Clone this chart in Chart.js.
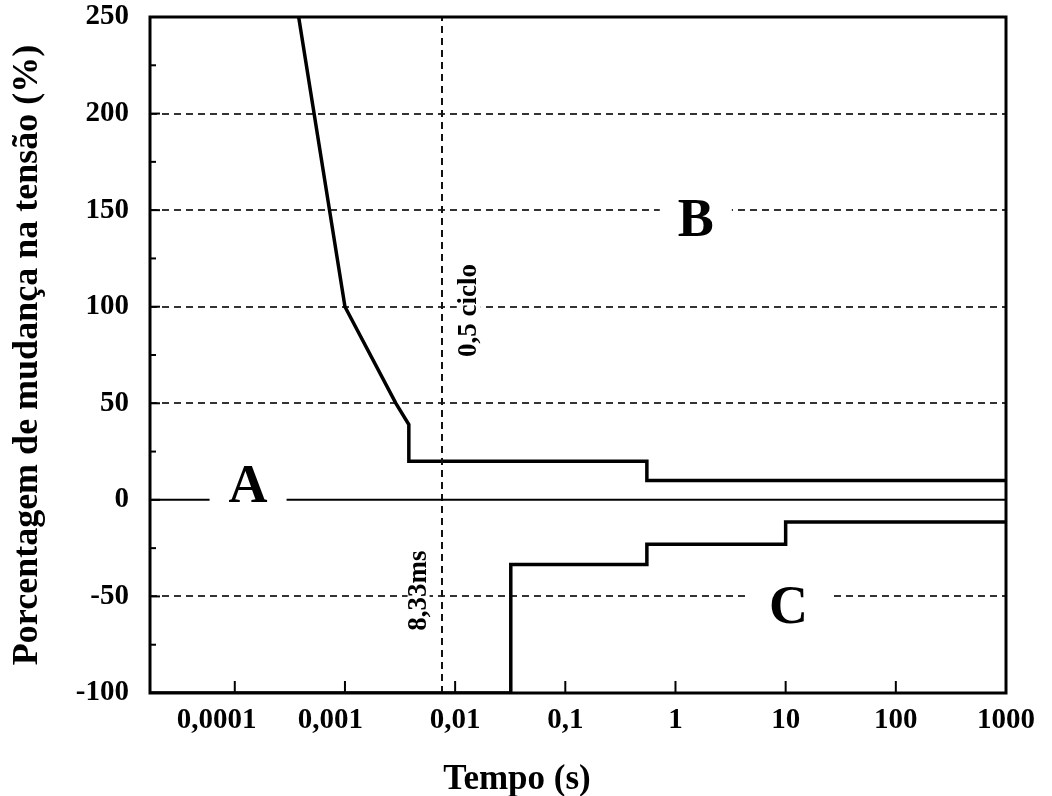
<!DOCTYPE html>
<html>
<head>
<meta charset="utf-8">
<script src="https://cdn.jsdelivr.net/npm/chart.js@4.4.1/dist/chart.umd.min.js"></script>
<style>
  html, body { margin: 0; padding: 0; background: #fff; }
  #wrap { width: 1052px; height: 796px; }
</style>
</head>
<body>
<div id="wrap"><canvas id="cbema" width="1052" height="796"></canvas></div>
<script>
// axis ticks
const xTickValues = [0.0001, 0.001, 0.01, 0.1, 1, 10, 100, 1000];
const xTickLabels = ['0,0001', '0,001', '0,01', '0,1', '1', '10', '100', '1000'];
const yTickValues = [250, 200, 150, 100, 50, 0, -50, -100];
const yGridValues = [200, 150, 100, 50, -50];

// upper (overvoltage) curve
const upperTime = [0.00038, 0.001, 0.0029, 0.0038, 0.0038, 0.55, 0.55, 1000];
const upperPct  = [250, 100, 50, 39, 20, 20, 10, 10];

// lower (undervoltage) curve
const lowerTime = [0.000017, 0.032, 0.032, 0.55, 0.55, 10, 10, 1000];
const lowerPct  = [-100, -100, -33.5, -33.5, -23, -23, -11.5, -11.5];

const timeMin = 0.000017;
const timeMax = 1000;
const halfCycle = 0.0076; // 8,33 ms marker (as drawn)

const serif = "'Liberation Serif', 'Times New Roman', serif";

const toPoints = (xs, ys) => xs.map((v, i) => ({ x: v, y: ys[i] }));

function line(ctx, x1, y1, x2, y2) {
    ctx.beginPath();
    ctx.moveTo(x1, y1);
    ctx.lineTo(x2, y2);
    ctx.stroke();
}

function boxedText(ctx, text, px, py, padX, padY) {
    const w = ctx.measureText(text).width;
    ctx.fillStyle = '#fff';
    ctx.fillRect(px - w / 2 - padX, py - padY, w + padX * 2, padY * 2);
    ctx.fillStyle = '#000';
    ctx.fillText(text, px, py);
}

const decor = {
    id: 'decor',
    afterDatasetsDraw(chart) {
        const { ctx, chartArea: a, scales: { x, y } } = chart;
        ctx.save();
        ctx.strokeStyle = '#000';

        // minor ticks on the y axis, pointing inward
        ctx.lineWidth = 2;
        for (let v = -75; v < 250; v += 25) {
            const py = y.getPixelForValue(v);
            line(ctx, a.left, py, a.left + (v % 50 === 0 ? 10 : 6), py);
        }
        // decade ticks on the x axis, pointing inward
        xTickValues.forEach(v => {
            if (v >= timeMax) return;
            const px = x.getPixelForValue(v);
            line(ctx, px, a.bottom, px, a.bottom - 12);
        });

        // frame
        ctx.lineWidth = 3;
        ctx.strokeRect(a.left, a.top, a.right - a.left, a.bottom - a.top);

        ctx.textAlign = 'center';
        ctx.textBaseline = 'middle';

        // region letters
        ctx.font = 'bold 54px ' + serif;
        boxedText(ctx, 'A', x.getPixelForValue(0.000132), y.getPixelForValue(6), 19, 22);
        boxedText(ctx, 'B', x.getPixelForValue(1.53), y.getPixelForValue(144), 18, 22);
        boxedText(ctx, 'C', x.getPixelForValue(10.6), y.getPixelForValue(-56.5), 22, 22);

        // rotated annotations
        ctx.font = 'bold 27px ' + serif;
        ctx.save();
        ctx.translate(x.getPixelForValue(0.0133), y.getPixelForValue(98));
        ctx.rotate(-Math.PI / 2);
        boxedText(ctx, '0,5 ciclo', 0, 0, 4, 12);
        ctx.restore();

        ctx.save();
        ctx.translate(x.getPixelForValue(0.00466), y.getPixelForValue(-47));
        ctx.rotate(-Math.PI / 2);
        boxedText(ctx, '8,33ms', 0, 0, 4, 11);
        ctx.restore();

        // x axis title
        ctx.font = 'bold 35px ' + serif;
        ctx.fillStyle = '#000';
        ctx.textBaseline = 'alphabetic';
        ctx.fillText('Tempo (s)', 517, 789);

        ctx.restore();
    }
};

new Chart(document.getElementById('cbema'), {
    type: 'line',
    data: {
        datasets: [
            {
                data: toPoints([timeMin, timeMax], [0, 0]),
                borderColor: '#000',
                borderWidth: 2
            },
            {
                data: toPoints([halfCycle, halfCycle], [-100, 250]),
                borderColor: '#111',
                borderWidth: 2,
                borderDash: [7, 5]
            },
            {
                data: toPoints(upperTime, upperPct),
                borderColor: '#000',
                borderWidth: 3.5
            },
            {
                data: toPoints(lowerTime, lowerPct),
                borderColor: '#000',
                borderWidth: 3.5
            }
        ]
    },
    options: {
        responsive: false,
        animation: false,
        events: [],
        layout: { padding: { top: 17, right: 46, left: 0, bottom: 0 } },
        elements: { point: { radius: 0 }, line: { tension: 0 } },
        plugins: { legend: { display: false }, tooltip: { enabled: false } },
        scales: {
            x: {
                type: 'logarithmic',
                min: timeMin,
                max: timeMax,
                afterBuildTicks: scale => {
                    scale.ticks = xTickValues.map(v => ({ value: v }));
                },
                afterFit: scale => {
                    scale.height = 103;
                    scale.paddingLeft = 0;
                    scale.paddingRight = 0;
                },
                grid: { display: false, drawTicks: false },
                border: { display: false },
                ticks: {
                    autoSkip: false,
                    maxRotation: 0,
                    padding: 10,
                    color: '#000',
                    font: { family: serif, size: 29, weight: 'bold' },
                    callback: (value, i) => {
                        const label = xTickLabels[i];
                        // the two leftmost labels sit a little left of their ticks
                        if (i === 0) return label + '\u00a0\u00a0\u00a0\u00a0\u00a0';
                        if (i === 1) return label + '\u00a0\u00a0\u00a0\u00a0';
                        return label;
                    }
                }
            },
            y: {
                min: -100,
                max: 250,
                afterBuildTicks: scale => {
                    scale.ticks = yTickValues.map(v => ({ value: v }));
                },
                afterFit: scale => {
                    scale.width = 150;
                    scale.paddingTop = 0;
                    scale.paddingBottom = 0;
                },
                grid: {
                    drawTicks: false,
                    lineWidth: 2,
                    color: c => yGridValues.includes(c.tick && c.tick.value) ? '#333' : 'rgba(0,0,0,0)'
                },
                border: { display: false, dash: [7, 5] },
                ticks: {
                    padding: 21,
                    color: '#000',
                    font: { family: serif, size: 29, weight: 'bold' }
                },
                title: {
                    display: true,
                    text: 'Porcentagem de mudança na tensão (%)',
                    color: '#000',
                    font: { family: serif, size: 36, weight: 'bold' },
                    padding: { top: 6, bottom: 0 }
                }
            }
        }
    },
    plugins: [decor]
});
</script>
</body>
</html>
